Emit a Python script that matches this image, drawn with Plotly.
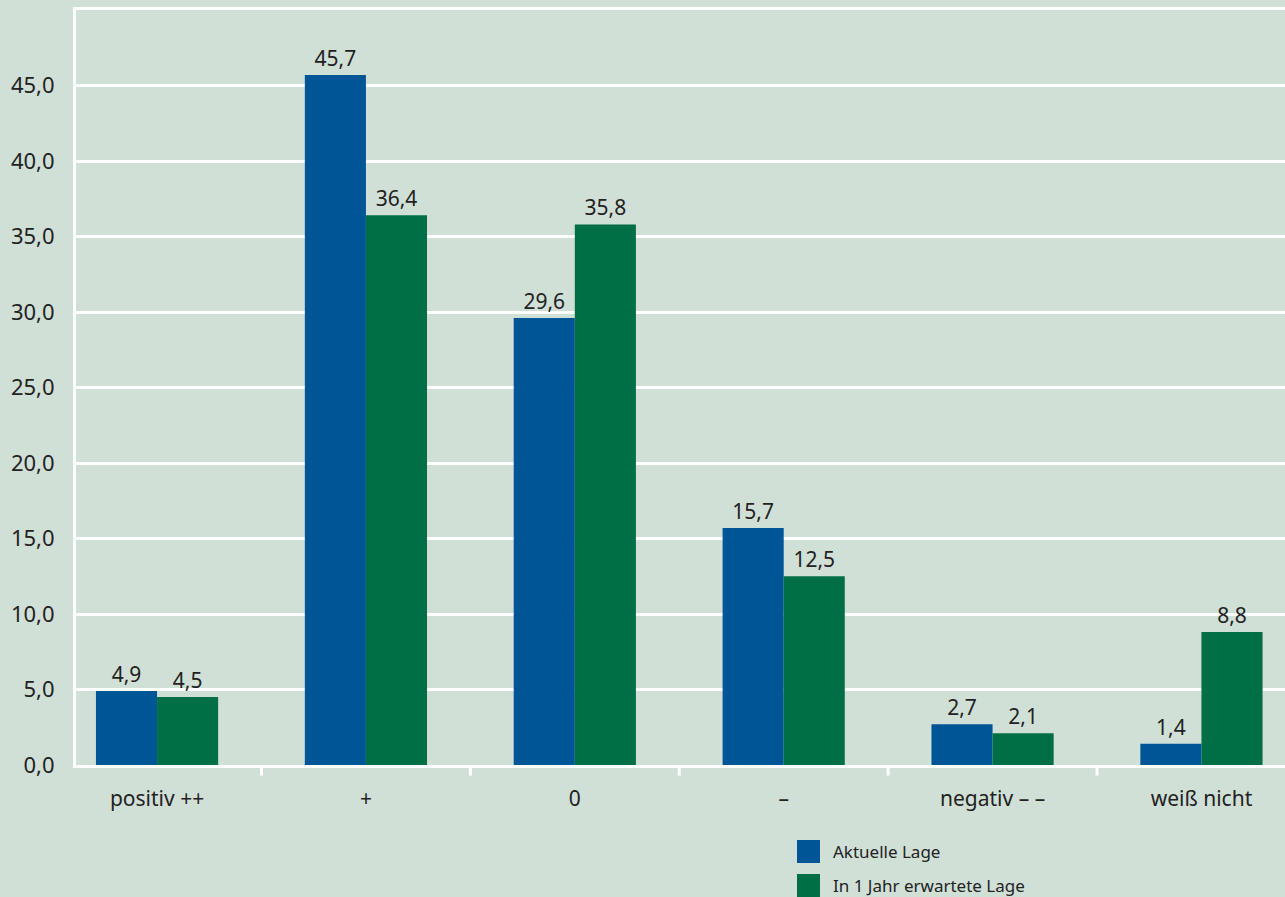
import plotly.graph_objects as go

categories = ["positiv ++", "+", "0", "–", "negativ – –", "weiß nicht"]
aktuell = [4.9, 45.7, 29.6, 15.7, 2.7, 1.4]
erwartet = [4.5, 36.4, 35.8, 12.5, 2.1, 8.8]
series_names = ["Aktuelle Lage", "In 1 Jahr erwartete Lage"]
y_ticks = [0, 5, 10, 15, 20, 25, 30, 35, 40, 45]

BLUE = "#005596"
GREEN = "#006f46"
BG = "#d1e0d7"
TXT = "#222222"
FONT = "Noto Sans"

def fmt(v):
    return f"{v:.1f}".replace(".", ",")

fig = go.Figure()
for name, vals, col in [(series_names[0], aktuell, BLUE), (series_names[1], erwartet, GREEN)]:
    fig.add_trace(go.Bar(
        x=list(range(len(categories))), y=vals, name=name,
        marker=dict(color=col, line=dict(width=0)),
        text=[fmt(v) for v in vals], textposition="outside",
        textfont=dict(family=FONT, size=21, color=TXT),
        cliponaxis=False, showlegend=False, hoverinfo="skip",
    ))

fig.update_layout(
    width=1285, height=897,
    paper_bgcolor=BG, plot_bgcolor=BG,
    margin=dict(l=76, r=0, t=10, b=132),
    barmode="group", bargap=0.415, bargroupgap=0,
    separators=",.",
    font=dict(family=FONT, color=TXT),
    xaxis=dict(
        range=[-0.388, 5.40],
        tickvals=list(range(len(categories))), ticktext=categories,
        tickfont=dict(family=FONT, size=21, color=TXT),
        showgrid=False, zeroline=False,
        showline=True, linecolor="white", linewidth=3, mirror=True,
        ticks="", ticklabelstandoff=13,
    ),
    yaxis=dict(
        range=[0, 50], tickvals=y_ticks, tickformat=".1f",
        tickfont=dict(family=FONT, size=22, color=TXT),
        showgrid=True, gridcolor="white", gridwidth=2.5,
        zeroline=False, showline=True, linecolor="white", linewidth=3,
        ticks="", ticklabelstandoff=14,
    ),
)

# category boundary tick marks
for b in [0.5, 1.5, 2.5, 3.5, 4.5]:
    fig.add_shape(type="line", xref="x", yref="paper", x0=b, x1=b, y0=0, y1=-0.014,
                  line=dict(color="white", width=3))

# legend
leg = [(series_names[0], BLUE, 840), (series_names[1], GREEN, 874)]
for name, col, ytop in leg:
    y0 = 1 - (ytop - 10) / 755
    y1 = 1 - (ytop + 23 - 10) / 755
    fig.add_shape(type="rect", xref="paper", yref="paper",
                  x0=(797 - 76) / 1209, x1=(820 - 76) / 1209, y0=y1, y1=y0,
                  fillcolor=col, line=dict(width=0))
    fig.add_annotation(xref="paper", yref="paper", x=(831 - 76) / 1209, y=(y0 + y1) / 2,
                       text=name, showarrow=False, xanchor="left", yanchor="middle",
                       font=dict(family=FONT, size=17, color=TXT))

fig.write_html("out.html", config={"displayModeBar": False},
               post_script="document.body.style.margin='0';document.body.style.overflow='hidden';")
